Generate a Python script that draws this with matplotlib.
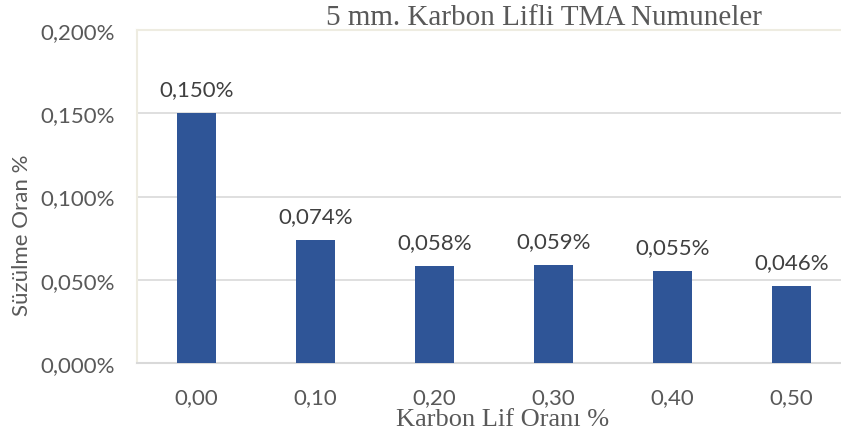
import matplotlib.pyplot as plt
from matplotlib.ticker import FuncFormatter

# carbon fibre ratio (%) and seepage ratio (%)
categories = ["0,00", "0,10", "0,20", "0,30", "0,40", "0,50"]
values = [0.150, 0.074, 0.058, 0.059, 0.055, 0.046]
yticks = [0.0, 0.05, 0.10, 0.15, 0.20]

textColor = "#595959"
barColor = "#2F5597"
sansFont = "Lato"
fs = 16

def pct(v, pos=None):
    return ("%.3f%%" % v).replace(".", ",")

fig = plt.figure(figsize=(8.41, 4.39), dpi=100)
ax = fig.add_axes([137 / 841, 1 - 364 / 439, 714 / 841, 333 / 439])

x = list(range(len(categories)))
bars = ax.bar(x, values, width=0.32, color=barColor, zorder=3)

ax.set_xlim(-0.5, len(categories) - 0.5)
ax.set_ylim(0, 0.20)
ax.set_yticks(yticks)
ax.yaxis.set_major_formatter(FuncFormatter(pct))
ax.set_xticks(x)
ax.set_xticklabels(categories)

ax.grid(axis="y", color="#d9d9d9", linewidth=1.2, zorder=0)
ax.tick_params(length=0, labelsize=fs, colors=textColor)
ax.tick_params(axis="x", pad=17)
ax.tick_params(axis="y", pad=16)
for lbl in ax.get_xticklabels() + ax.get_yticklabels():
    lbl.set_family(sansFont)

ax.spines["right"].set_visible(False)
ax.spines["left"].set_color("#eeece1")
ax.spines["left"].set_linewidth(1.5)
ax.spines["top"].set_color("#eeece1")
ax.spines["top"].set_linewidth(1.5)
ax.spines["bottom"].set_color("#d9d9d9")
ax.spines["bottom"].set_linewidth(1.5)

for b, v in zip(bars, values):
    ax.annotate(pct(v), (b.get_x() + b.get_width() / 2, v), xytext=(0, 10),
                textcoords="offset points", ha="center", va="bottom",
                fontsize=fs, color="#404040", family=sansFont)

fig.text(544 / 841, 1 - 18 / 439, "5 mm. Karbon Lifli TMA Numuneler", ha="center",
         va="center", fontsize=21, color=textColor, family="Liberation Serif")
fig.text(503 / 841, 1 - 420 / 439, "Karbon Lif Oranı %", ha="center", va="center",
         fontsize=19, color=textColor, family="Liberation Serif")
fig.text(22 / 841, 1 - 235 / 439, "Süzülme Oran %", ha="center", va="center",
         rotation=90, fontsize=fs, color=textColor, family=sansFont)

fig.savefig("out.png", dpi=100)
